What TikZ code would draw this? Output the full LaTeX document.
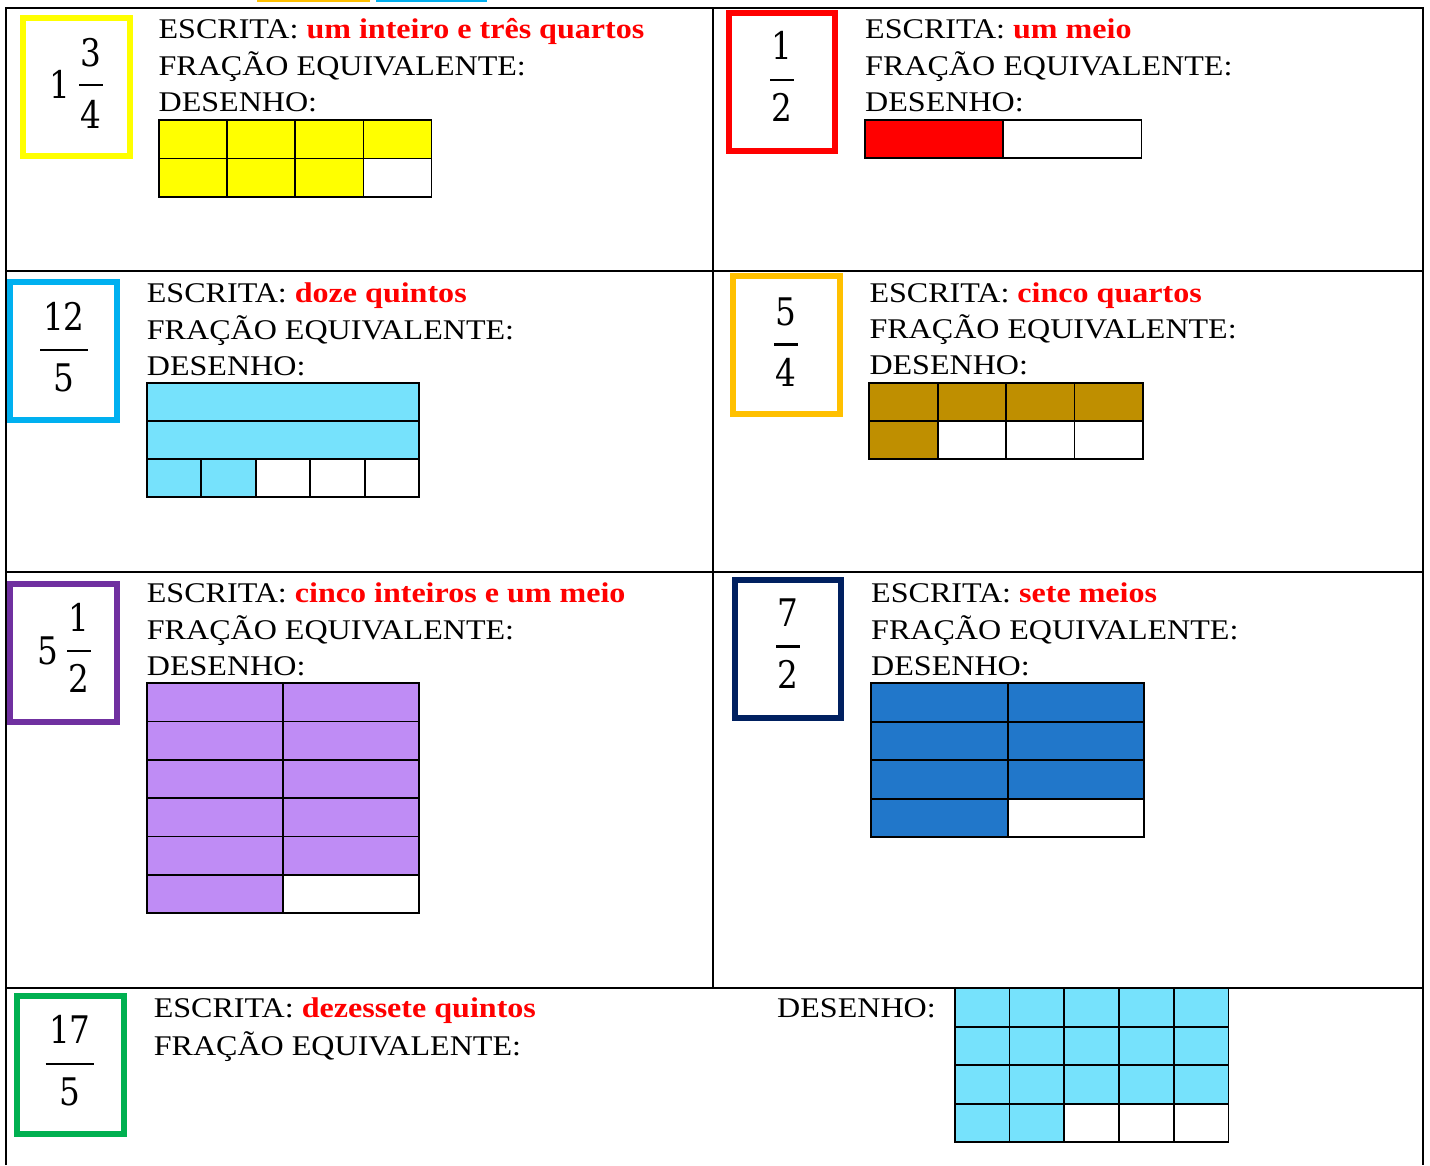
\documentclass[tikz,border=0pt]{standalone}
\usepackage{fontspec}
\newfontfamily\tnr{Liberation Serif}[FakeStretch=1.125]
\newfontfamily\numf{DejaVu Serif}[FakeStretch=0.86]
\definecolor{cYel}{HTML}{FFFF00}
\definecolor{cRed}{HTML}{FF0000}
\definecolor{cBlueBox}{HTML}{00B0F0}
\definecolor{cGoldBox}{HTML}{FFC000}
\definecolor{cPurBox}{HTML}{7030A0}
\definecolor{cNavy}{HTML}{002060}
\definecolor{cGreen}{HTML}{00B050}
\definecolor{cCyan}{HTML}{76E2FC}
\definecolor{cGold}{HTML}{BF8F00}
\definecolor{cPur}{HTML}{BF8CF5}
\definecolor{cDBlue}{HTML}{2177CA}
\newcommand\cellgrid[8]{%
  \foreach \r in {1,...,#6}{\foreach \c in {1,...,#5}{%
    \pgfmathtruncatemacro\kk{(\r-1)*#5+\c}%
    \ifnum\kk>#7\relax\def\fc{white}\else\def\fc{#8}\fi
    \filldraw[fill=\fc, cellline] ({#1+(\c-1)*#3},{#2+(\r-1)*#4}) rectangle ++(#3,#4);
  }}}
\begin{document}
\begin{tikzpicture}[x=1pt,y=-1pt,
  tbl/.style={line width=2pt, black, line join=miter},
  fracbox/.style={line width=6pt, line join=miter},
  txt/.style={anchor=base west, inner sep=0pt, font=\tnr\fontsize{28.5}{34}\selectfont},
  num/.style={anchor=base, inner sep=0pt, font=\numf\fontsize{38}{46}\selectfont},
  fbar/.style={line width=2.6pt},
  cellline/.style={line width=1.7pt, draw=black}]
\useasboundingbox (0,0) rectangle (1430,1165);
\fill[white] (0,0) rectangle (1430,1165);
% remnants at the top edge
\fill[cGoldBox] (257,0) rectangle (370,1.6);
\fill[cBlueBox] (376,0) rectangle (487,1.6);
% table
\draw[tbl] (6,1165) -- (6,8.2) -- (1423,8.2) -- (1423,1165);
\draw[tbl] (6,271) -- (1423,271);
\draw[tbl] (6,571.5) -- (1423,571.5);
\draw[tbl] (6,988) -- (1423,988);
\draw[tbl] (713,8.2) -- (713,988);

% ---------- panel 1 ----------
\draw[fracbox, cYel] (23,18) rectangle (129.7,156.3);
\node[num] (w1) at (60,98.3) {1};
\node[num] (n1) at (90.8,66.7) {3};
\node[num] (d1) at (90.8,128.3) {4};
\draw[fbar] (79,85) -- (102.7,85);
\node[txt] (e1) at (158.4,38.3) {ESCRITA: \textcolor{cRed}{\bfseries um inteiro e três quartos}};
\node[txt] (q1) at (158.4,75) {FRAÇÃO EQUIVALENTE:};
\node[txt] (s1) at (158.4,111.7) {DESENHO:};
\cellgrid{159}{120}{68.15}{38.35}{4}{2}{7}{cYel}

% ---------- panel 2 ----------
\draw[fracbox, cRed] (729,13) rectangle (835.3,151);
\node[num] (n2) at (782,59.3) {1};
\node[num] (d2) at (782,121.7) {2};
\draw[fbar] (770,80) -- (794,80);
\node[txt] (e2) at (865,38.3) {ESCRITA: \textcolor{cRed}{\bfseries um meio}};
\node[txt] (q2) at (865,75) {FRAÇÃO EQUIVALENTE:};
\node[txt] (s2) at (865,111.7) {DESENHO:};
\cellgrid{865}{120}{138.3}{38}{2}{1}{1}{cRed}

% ---------- panel 3 ----------
\draw[fracbox, cBlueBox] (10.3,282) rectangle (117,420.3);
\node[num] (n3) at (64,330) {12};
\node[num] (d3) at (64,391.7) {5};
\draw[fbar] (40,350) -- (88,350);
\node[txt] (e3) at (146.7,302.7) {ESCRITA: \textcolor{cRed}{\bfseries doze quintos}};
\node[txt] (q3) at (146.7,339.3) {FRAÇÃO EQUIVALENTE:};
\node[txt] (s3) at (146.7,375) {DESENHO:};
\filldraw[fill=cCyan, cellline] (146.7,382.7) rectangle (419.3,420.9);
\filldraw[fill=cCyan, cellline] (146.7,420.9) rectangle (419.3,459.1);
\cellgrid{146.7}{459.1}{54.52}{38.2}{5}{1}{2}{cCyan}

% ---------- panel 4 ----------
\draw[fracbox, cGoldBox] (733,275.7) rectangle (839.7,413.7);
\node[num] (n4) at (785.8,325) {5};
\node[num] (d4) at (785.8,386) {4};
\draw[fbar] (774,344.3) -- (797.7,344.3);
\node[txt] (e4) at (869.3,302.7) {ESCRITA: \textcolor{cRed}{\bfseries cinco quartos}};
\node[txt] (q4) at (869.3,338.3) {FRAÇÃO EQUIVALENTE:};
\node[txt] (s4) at (869.3,374.3) {DESENHO:};
\cellgrid{869.3}{382.7}{68.35}{38.15}{4}{2}{5}{cGold}

% ---------- panel 5 ----------
\draw[fracbox, cPurBox] (10.3,584) rectangle (117,722);
\node[num] (w5) at (47.5,664) {5};
\node[num] (n5) at (78.8,631.7) {1};
\node[num] (d5) at (78.8,692.7) {2};
\draw[fbar] (67,651) -- (90.7,651);
\node[txt] (e5) at (146.7,602.3) {ESCRITA: \textcolor{cRed}{\bfseries cinco inteiros e um meio}};
\node[txt] (q5) at (146.7,639) {FRAÇÃO EQUIVALENTE:};
\node[txt] (s5) at (146.7,675) {DESENHO:};
\cellgrid{146.7}{683.3}{136.3}{38.33}{2}{6}{11}{cPur}

% ---------- panel 6 ----------
\draw[fracbox, cNavy] (734.7,580.3) rectangle (841.3,717.7);
\node[num] (n6) at (788,626.7) {7};
\node[num] (d6) at (788,688) {2};
\draw[fbar] (776,646.7) -- (800,646.7);
\node[txt] (e6) at (871,602.3) {ESCRITA: \textcolor{cRed}{\bfseries sete meios}};
\node[txt] (q6) at (871,639) {FRAÇÃO EQUIVALENTE:};
\node[txt] (s6) at (871,675) {DESENHO:};
\cellgrid{871}{683.3}{136.65}{38.5}{2}{4}{7}{cDBlue}

% ---------- panel 7 ----------
\draw[fracbox, cGreen] (17.3,996.3) rectangle (123.8,1134.3);
\node[num] (n7) at (69.8,1043.3) {17};
\node[num] (d7) at (69.8,1105.7) {5};
\draw[fbar] (45.7,1064) -- (94,1064);
\node[txt] (e7) at (153.6,1017.7) {ESCRITA: \textcolor{cRed}{\bfseries dezessete quintos}};
\node[txt] (q7) at (153.6,1055) {FRAÇÃO EQUIVALENTE:};
\node[txt] (s7) at (777,1017.3) {DESENHO:};
\cellgrid{954.8}{988.3}{54.74}{38.5}{5}{4}{17}{cCyan}
\end{tikzpicture}
\end{document}
